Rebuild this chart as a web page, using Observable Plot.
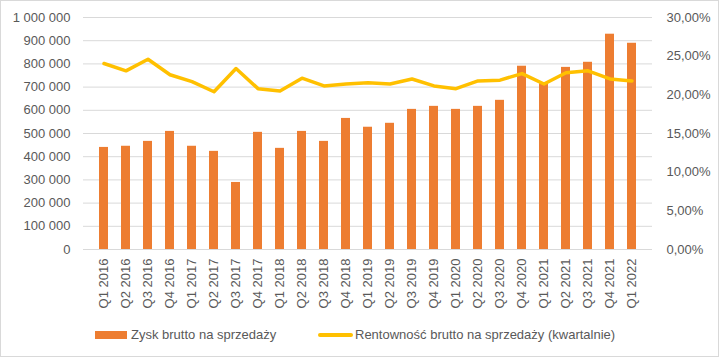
<!DOCTYPE html>
<html>
<head>
<meta charset="utf-8">
<script src="https://cdn.jsdelivr.net/npm/d3@7"></script>
<script src="https://cdn.jsdelivr.net/npm/@observablehq/plot@0.6"></script>
<style>
  body { margin: 0; background: #fff; }
  #wrap { position: relative; width: 722px; height: 360px; font-family: "Liberation Sans", Arial, sans-serif; color: #595959; }
  #border { position: absolute; left: 0; top: 0; width: 719px; height: 357px; border: 1px solid #d9d9d9; box-sizing: border-box; pointer-events: none; }
  #chart { position: absolute; left: 0; top: 0; }
  .leg { position: absolute; font-size: 13px; line-height: 13px; white-space: nowrap; }
</style>
</head>
<body>
<div id="wrap">
  <div id="chart"></div>
  <div id="border"></div>
  <div style="position:absolute;left:95px;top:331px;width:32px;height:8px;background:#ED7D31"></div>
  <div class="leg" style="left:131px;top:328px">Zysk brutto na sprzedaży</div>
  <div style="position:absolute;left:318px;top:333px;width:35px;height:4px;border-radius:2px;background:#FFC000"></div>
  <div class="leg" style="left:355px;top:328px">Rentowność brutto na sprzedaży (kwartalnie)</div>
</div>
<script>
const quarters = ["Q1 2016","Q2 2016","Q3 2016","Q4 2016","Q1 2017","Q2 2017","Q3 2017","Q4 2017","Q1 2018","Q2 2018","Q3 2018","Q4 2018","Q1 2019","Q2 2019","Q3 2019","Q4 2019","Q1 2020","Q2 2020","Q3 2020","Q4 2020","Q1 2021","Q2 2021","Q3 2021","Q4 2021","Q1 2022"];
const profit = [440000,445000,466000,509000,445000,423000,289000,505000,436000,509000,466000,565000,527000,544000,604000,617000,604000,617000,643000,790000,715000,785000,807000,928000,889000];
const margin = [24.05,23.1,24.6,22.6,21.7,20.4,23.4,20.8,20.5,22.15,21.15,21.4,21.55,21.4,22.05,21.15,20.8,21.8,21.9,22.75,21.4,22.85,23.1,22.05,21.8];
const leftTicks = [0,100000,200000,300000,400000,500000,600000,700000,800000,900000,1000000];
const pctTicks = [0,5,10,15,20,25,30];

const yMax = 1000000, pMax = 30;
const data = quarters.map((q, i) => ({q, profit: profit[i], margin: margin[i]}));
const toY = p => p / pMax * yMax;
const fmtNum = v => d3.format(",")(v).replace(/,/g, " ");
const fmtPct = v => (Math.round(v * pMax / yMax * 100) / 100).toFixed(2).replace(".", ",") + "%";

const chart = Plot.plot({
  width: 722,
  height: 315,
  marginLeft: 83,
  marginRight: 70,
  marginTop: 17,
  marginBottom: 66,
  style: {fontFamily: "Liberation Sans, Arial, sans-serif", fontSize: "13px", color: "#595959", background: "transparent"},
  x: {domain: quarters, padding: 0.58, label: null},
  y: {domain: [0, yMax], label: null},
  marks: [
    Plot.gridY(leftTicks, {stroke: "#d9d9d9", strokeOpacity: 1}),
    Plot.barY(data, {x: "q", y: "profit", fill: "#ED7D31"}),
    Plot.line(data, {x: "q", y: d => toY(d.margin), stroke: "#FFC000", strokeWidth: 3.5, strokeLinejoin: "round", strokeLinecap: "round"}),
    Plot.axisY(leftTicks, {anchor: "left", tickSize: 0, tickPadding: 13, tickFormat: fmtNum, label: null}),
    Plot.axisY(pctTicks.map(toY), {anchor: "right", tickSize: 0, tickPadding: 14, tickFormat: fmtPct, textAnchor: "start", label: null}),
    Plot.axisX({tickSize: 0, tickPadding: 9, tickRotate: -90, label: null})
  ]
});
document.getElementById("chart").appendChild(chart);
</script>
</body>
</html>
